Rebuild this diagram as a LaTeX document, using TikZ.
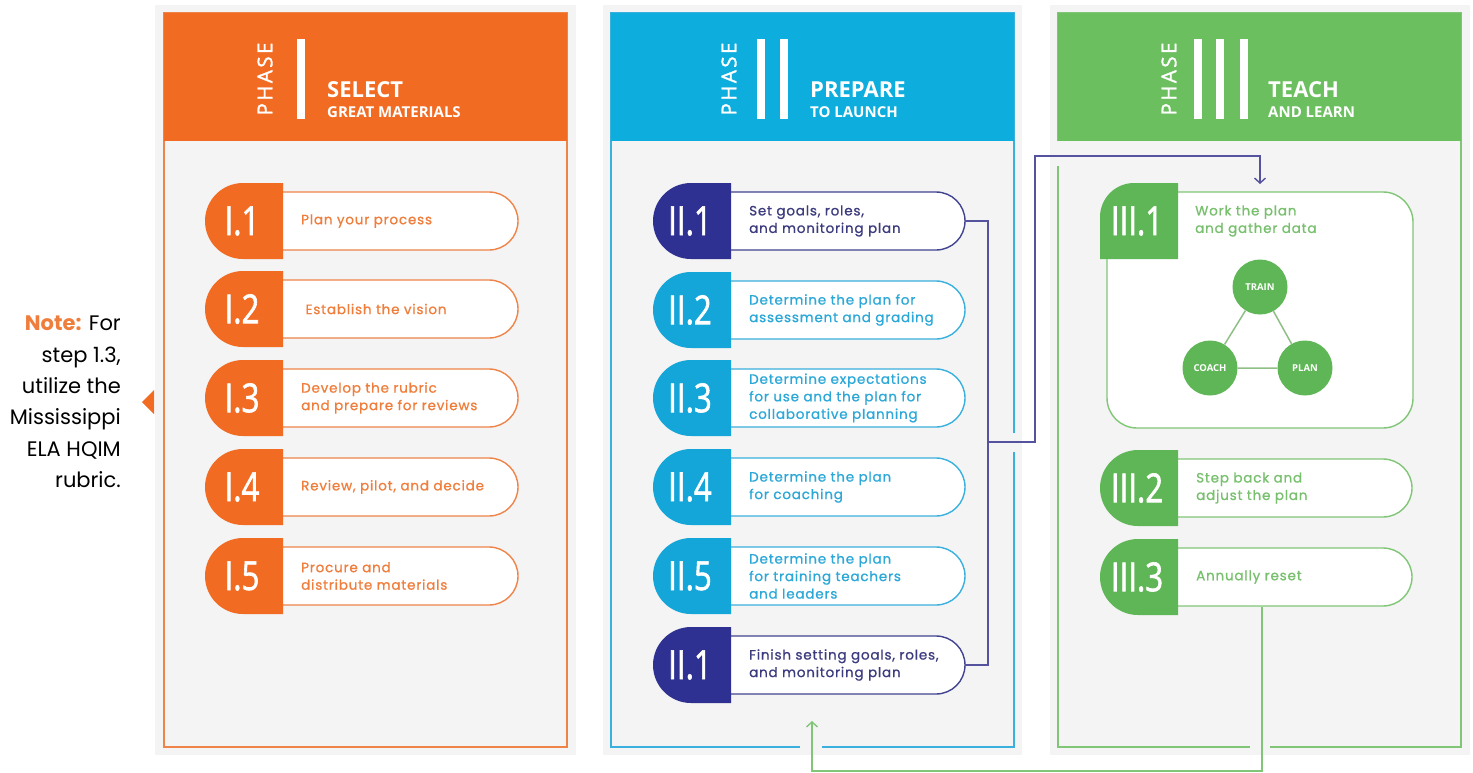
\documentclass[tikz,border=0pt]{standalone}
\usepackage{fontspec}
\setmainfont{Poppins}
\newfontfamily\pillfont[FakeBold=0.9,LetterSpace=6]{Poppins}
\newfontfamily\numfont[FakeStretch=0.78,FakeBold=1.5]{Open Sans}
\newfontfamily\headfont{Open Sans}
\newfontfamily\phasefont[LetterSpace=12,FakeBold=1.5]{Open Sans}
\newfontfamily\notefont{Poppins}
\usetikzlibrary{arrows.meta}
\definecolor{orangeH}{HTML}{F26B23}
\definecolor{orangeL}{HTML}{EF8448}
\definecolor{orangeT}{HTML}{EF7E3C}
\definecolor{blueH}{HTML}{0DAEDD}
\definecolor{blueC}{HTML}{14A6D8}
\definecolor{blueT}{HTML}{2BA8D8}
\definecolor{blueL}{HTML}{39B0DD}
\definecolor{navyC}{HTML}{2E3192}
\definecolor{navyT}{HTML}{3C3B7E}
\definecolor{navyL}{HTML}{41438F}
\definecolor{greenH}{HTML}{6BBF5F}
\definecolor{greenC}{HTML}{5FB656}
\definecolor{greenT}{HTML}{78C06E}
\definecolor{greenL}{HTML}{80C676}
\definecolor{purpC}{HTML}{55539E}
\definecolor{panelbg}{HTML}{F4F4F4}
\definecolor{triline}{HTML}{8FBF87}
\newcommand\pill[9]{%
  \filldraw[fill=white,draw=#7,line width=1.4pt] (#1+60,#2-29) -- (#3-29,#2-29) arc[start angle=90,end angle=-90,radius=29pt] -- (#1+60,#2+29) -- cycle;
  \fill[#6] (#1+78,#2-38) -- (#1+38,#2-38) arc[start angle=90,end angle=270,radius=38pt] -- (#1+78,#2+38) -- cycle;
  \node[numlbl] (#9n) at (#1+37,#2) {#4};
  \node[pilltext,text=#8] (#9t) at (#1+96,#2) {#5};
  \coordinate (#9e) at (#3,#2);
}
\begin{document}
\begin{tikzpicture}[x=1pt,y=-1pt,
  numlbl/.style={text=white,inner sep=0,font=\numfont\fontsize{40}{40}\selectfont},
  pilltext/.style={anchor=west,align=left,inner sep=0,font=\pillfont\fontsize{13.5}{17.5}\selectfont},
  titletext/.style={anchor=base west,inner sep=0,text=white,font=\headfont\bfseries\fontsize{22}{22}\selectfont},
  subtext/.style={anchor=base west,inner sep=0,text=white,font=\headfont\bfseries\fontsize{15}{15}\selectfont},
  phasetext/.style={rotate=90,inner sep=0,text=white,font=\phasefont\fontsize{20.5}{20.5}\selectfont},
  phasebar/.style={fill=white},
  border/.style={line width=1.5pt},
  purp/.style={draw=purpC,line width=1.5pt},
  greenconn/.style={draw=greenL,line width=1.5pt},
  tip/.style={-{Straight Barb[length=5pt,width=11pt,line width=1.4pt]}},
  circ/.style={circle,fill=greenC,minimum size=55pt,inner sep=0,text=white,font=\headfont\bfseries\fontsize{9.5}{9.5}\selectfont}
]
\useasboundingbox (0,0) rectangle (1473,772);
\fill[white] (0,0) rectangle (1473,772);

% panel backgrounds
\fill[panelbg] (155,5) rectangle (576,755);
\fill[panelbg] (603,5) rectangle (1022,755);
\fill[panelbg] (1050,5) rectangle (1470,755);

% borders
\draw[border,draw=orangeL] (164,13) rectangle (567,747);
\draw[border,draw=blueL] (1014,452) -- (1014,747) -- (822,747);
\draw[border,draw=blueL] (800,747) -- (611,747) -- (611,13) -- (1014,13) -- (1014,433);
\draw[border,draw=greenL] (1058,166) -- (1058,747) -- (1250,747);
\draw[border,draw=greenL] (1270,747) -- (1461,747) -- (1461,13) -- (1058,13) -- (1058,141);

% headers
\fill[orangeH] (164,13) rectangle (567,141);
\fill[blueH] (611,13) rectangle (1014,141);
\fill[greenH] (1058,13) rectangle (1461,141);

\node[phasetext] (ph1) at (265,79) {PHASE};
\fill[phasebar] (297,39) rectangle (305,119);
\node[titletext] (t1) at (327,97) {SELECT};
\node[subtext] (s1) at (327,117) {GREAT MATERIALS};

\node[phasetext] (ph2) at (729,79) {PHASE};
\fill[phasebar] (757,39) rectangle (765,119);
\fill[phasebar] (780,39) rectangle (788,119);
\node[titletext] (t2) at (810,97) {PREPARE};
\node[subtext] (s2) at (810,117) {TO LAUNCH};

\node[phasetext] (ph3) at (1169,79) {PHASE};
\fill[phasebar] (1194,39) rectangle (1202,119);
\fill[phasebar] (1216,39) rectangle (1224,119);
\fill[phasebar] (1240,39) rectangle (1248,119);
\node[titletext] (t3) at (1268,97) {TEACH};
\node[subtext] (s3) at (1268,117) {AND LEARN};

% Phase I pills
\pill{205}{221}{518}{I.1}{Plan your process}{orangeH}{orangeL}{orangeT}{p11}
\pill{205}{309}{518}{I.2}{\ Establish the vision}{orangeH}{orangeL}{orangeT}{p12}
\pill{205}{398}{518}{I.3}{Develop the rubric\\and prepare for reviews}{orangeH}{orangeL}{orangeT}{p13}
\pill{205}{487}{518}{I.4}{Review, pilot, and decide}{orangeH}{orangeL}{orangeT}{p14}
\pill{205}{576}{518}{I.5}{Procure and\\distribute materials}{orangeH}{orangeL}{orangeT}{p15}

% Phase II pills
\pill{653}{221}{965}{II.1}{Set goals, roles,\\and monitoring plan}{navyC}{navyL}{navyT}{p21}
\pill{653}{310}{965}{II.2}{Determine the plan for\\assessment and grading}{blueC}{blueL}{blueT}{p22}
\pill{653}{398}{965}{II.3}{Determine expectations\\for use and the plan for\\collaborative planning}{blueC}{blueL}{blueT}{p23}
\pill{653}{487}{965}{II.4}{Determine the plan\\for coaching}{blueC}{blueL}{blueT}{p24}
\pill{653}{576}{965}{II.5}{Determine the plan\\for training teachers\\and leaders}{blueC}{blueL}{blueT}{p25}
\pill{653}{665}{965}{II.1}{Finish setting goals, roles,\\and monitoring plan}{navyC}{navyL}{navyT}{p26}

% Phase III
\filldraw[fill=white,draw=greenL,line width=1.4pt,rounded corners=30pt] (1107,192) rectangle (1413,428);
\fill[greenC] (1178,183) -- (1134,183) arc[start angle=90,end angle=180,radius=34pt] -- (1100,259) -- (1178,259) -- cycle;
\node[numlbl] (p31n) at (1137,221) {III.1};
\node[pilltext,text=greenT] (p31t) at (1195,221) {Work the plan\\and gather data};
\coordinate (p31in) at (1260,184);

\node[circ] (train) at (1260,287) {TRAIN};
\node[circ] (coach) at (1210,368) {COACH};
\node[circ] (plan) at (1305,368) {PLAN};
\draw[draw=triline,line width=1.5pt] (train) -- (coach) -- (plan) -- (train);

\pill{1100}{488}{1412}{III.2}{Step back and\\adjust the plan}{greenC}{greenL}{greenT}{p32}
\pill{1100}{577}{1412}{III.3}{Annually reset}{greenC}{greenL}{greenT}{p33}
\coordinate (p33b) at (1262,607);

% connectors
\coordinate (jA) at (988,442);
\coordinate (retarrow) at (812,721);
\draw[purp] (p21e) -- (988,221) -- (988,665) -- (p26e);
\draw[purp,tip] (jA) -- (1035,442) -- (1035,156) -- (1260,156) -- (p31in);
\draw[greenconn,tip] (p33b) -- (1262,771) -- (812,771) -- (retarrow);

% note
\fill[orangeH] (142,402) -- (154,390) -- (154,414) -- cycle;
\node[anchor=east,align=right,inner sep=0,font=\notefont\fontsize{21}{31.4}\selectfont] (note) at (121,402)
  {{\color{orangeT}\bfseries Note:} For\\step 1.3,\\utilize the\\Mississippi\\ELA HQIM\\rubric.};
\end{tikzpicture}
\end{document}
